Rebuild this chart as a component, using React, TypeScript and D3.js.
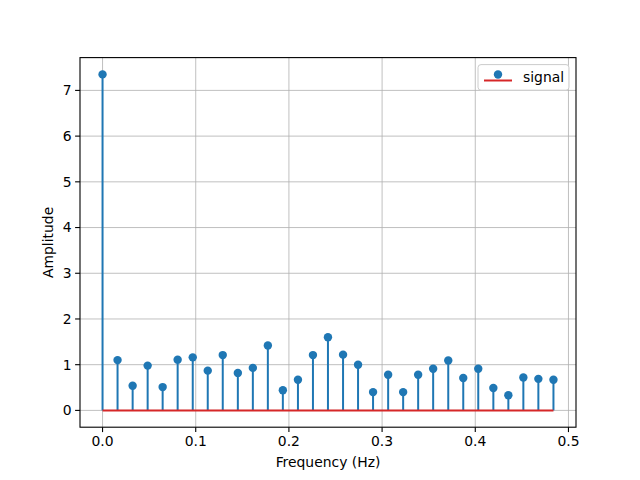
import * as d3 from "d3";

// frequency bins (Hz)
const freqs = [
  0, 0.0161, 0.0323, 0.0484, 0.0645, 0.0806, 0.0968, 0.1129, 0.129, 0.1452,
  0.1613, 0.1774, 0.1935, 0.2097, 0.2258, 0.2419, 0.2581, 0.2742, 0.2903,
  0.3065, 0.3226, 0.3387, 0.3548, 0.371, 0.3871, 0.4032, 0.4194, 0.4355,
  0.4516, 0.4677, 0.4839,
];
// amplitudes
const amps = [
  7.35, 1.1, 0.54, 0.98, 0.51, 1.11, 1.16, 0.87, 1.21, 0.82, 0.93, 1.42, 0.44,
  0.67, 1.21, 1.6, 1.22, 1.0, 0.4, 0.78, 0.4, 0.78, 0.91, 1.09, 0.71, 0.91,
  0.49, 0.33, 0.72, 0.69, 0.67,
];
const xTicks = [0, 0.1, 0.2, 0.3, 0.4, 0.5];
const yTicks = [0, 1, 2, 3, 4, 5, 6, 7];

const BLUE = "#1f77b4";
const RED = "#d62728";
const FONT = "DejaVu Sans, sans-serif";

export default function App() {
  const width = 640;
  const height = 480;
  const left = 80, right = 576, top = 57.6, bottom = 427.2;

  const xMin = d3.min(freqs)!, xMax = d3.max(freqs)!;
  const yMin = 0, yMax = d3.max(amps)!;
  const xPad = (xMax - xMin) * 0.05;
  const yPad = (yMax - yMin) * 0.05;
  const x = d3.scaleLinear().domain([xMin - xPad, xMax + xPad]).range([left, right]);
  const y = d3.scaleLinear().domain([yMin - yPad, yMax + yPad]).range([bottom, top]);

  return (
    <svg
      width={width}
      height={height}
      style={{ position: "absolute", left: 0, top: 0, background: "#fff" }}
      fontFamily={FONT}
    >
      <rect x={0} y={0} width={width} height={height} fill="#fff" />
      {/* grid */}
      {xTicks.map((t) => (
        <line key={"gx" + t} x1={x(t)} x2={x(t)} y1={top} y2={bottom} stroke="#b0b0b0" strokeWidth={0.8} />
      ))}
      {yTicks.map((t) => (
        <line key={"gy" + t} x1={left} x2={right} y1={y(t)} y2={y(t)} stroke="#b0b0b0" strokeWidth={0.8} />
      ))}

      {/* stems */}
      {freqs.map((f, i) => (
        <line key={"s" + i} x1={x(f)} x2={x(f)} y1={y(0)} y2={y(amps[i])} stroke={BLUE} strokeWidth={2} />
      ))}
      {/* baseline */}
      <line x1={x(xMin)} x2={x(xMax)} y1={y(0)} y2={y(0)} stroke={RED} strokeWidth={2} />
      {/* markers */}
      {freqs.map((f, i) => (
        <circle key={"m" + i} cx={x(f)} cy={y(amps[i])} r={4.2} fill={BLUE} />
      ))}

      {/* spines */}
      <rect x={left} y={top} width={right - left} height={bottom - top} fill="none" stroke="#000" strokeWidth={1.1} />

      {/* x ticks */}
      {xTicks.map((t) => (
        <g key={"tx" + t}>
          <line x1={x(t)} x2={x(t)} y1={bottom} y2={bottom + 4.9} stroke="#000" strokeWidth={1.1} />
          <text x={x(t)} y={bottom + 19} fontSize={13.9} textAnchor="middle" fill="#000">
            {t === 0 ? "0.0" : String(t)}
          </text>
        </g>
      ))}
      {/* y ticks */}
      {yTicks.map((t) => (
        <g key={"ty" + t}>
          <line x1={left - 4.9} x2={left} y1={y(t)} y2={y(t)} stroke="#000" strokeWidth={1.1} />
          <text x={left - 8.5} y={y(t)} dy="0.35em" fontSize={13.9} textAnchor="end" fill="#000">
            {t}
          </text>
        </g>
      ))}

      {/* axis labels */}
      <text x={(left + right) / 2} y={467} fontSize={13.9} textAnchor="middle" fill="#000">
        Frequency (Hz)
      </text>
      <text
        transform={`translate(53,${(top + bottom) / 2}) rotate(-90)`}
        fontSize={13.9}
        textAnchor="middle"
        fill="#000"
      >
        Amplitude
      </text>

      {/* legend */}
      <rect x={478} y={64.6} width={91} height={25.6} rx={3} fill="#fff" fillOpacity={0.8} stroke="#cccccc" strokeWidth={1} />
      <line x1={484} x2={512} y1={80.5} y2={80.5} stroke={RED} strokeWidth={2} />
      <circle cx={498} cy={74.5} r={4.2} fill={BLUE} />
      <text x={523} y={77.5} dy="0.35em" fontSize={13.9} fill="#000">
        signal
      </text>
    </svg>
  );
}
